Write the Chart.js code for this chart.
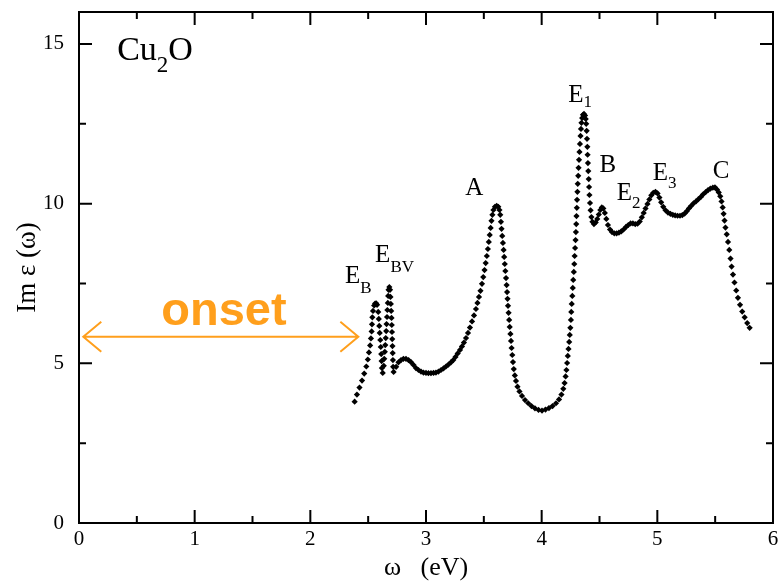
<!DOCTYPE html>
<html>
<head>
<meta charset="utf-8">
<script src="https://cdn.jsdelivr.net/npm/chart.js@4.4.0/dist/chart.umd.min.js"></script>
<style>
  body { margin: 0; background: #fff; }
  #wrap { width: 778px; height: 581px; }
</style>
</head>
<body>
<div id="wrap"><canvas id="eps" width="778" height="581"></canvas></div>
<script>
// photon energy (eV) and Im eps
const omega = [
  2.383, 2.403, 2.425, 2.447, 2.466, 2.484, 2.497, 2.507, 2.517, 2.524,
  2.530, 2.533, 2.536, 2.542, 2.552, 2.560, 2.569, 2.577, 2.587, 2.592,
  2.596, 2.600, 2.605, 2.609, 2.613, 2.616, 2.619, 2.626, 2.635, 2.639,
  2.644, 2.648, 2.652, 2.656, 2.659, 2.663, 2.666, 2.670, 2.673, 2.676,
  2.683, 2.689, 2.693, 2.696, 2.699, 2.702, 2.704, 2.706, 2.708, 2.710,
  2.712, 2.714, 2.716, 2.720, 2.742, 2.762, 2.784, 2.805, 2.827, 2.849,
  2.870, 2.892, 2.913, 2.935, 2.957, 2.978, 3.000, 3.021, 3.043, 3.065,
  3.086, 3.108, 3.130, 3.151, 3.173, 3.194, 3.216, 3.236, 3.255, 3.274,
  3.294, 3.311, 3.328, 3.346, 3.363, 3.380, 3.398, 3.415, 3.432, 3.445,
  3.458, 3.471, 3.484, 3.495, 3.506, 3.516, 3.526, 3.535, 3.543, 3.551,
  3.559, 3.566, 3.574, 3.583, 3.596, 3.611, 3.625, 3.635, 3.642, 3.648,
  3.653, 3.659, 3.665, 3.671, 3.676, 3.681, 3.686, 3.692, 3.697, 3.701,
  3.705, 3.709, 3.714, 3.719, 3.724, 3.730, 3.735, 3.740, 3.746, 3.752,
  3.759, 3.768, 3.778, 3.791, 3.808, 3.830, 3.856, 3.884, 3.912, 3.942,
  3.973, 4.003, 4.033, 4.063, 4.094, 4.124, 4.150, 4.171, 4.187, 4.198,
  4.207, 4.214, 4.220, 4.226, 4.232, 4.238, 4.243, 4.248, 4.253, 4.256,
  4.260, 4.265, 4.269, 4.273, 4.278, 4.282, 4.285, 4.289, 4.293, 4.296,
  4.299, 4.301, 4.304, 4.306, 4.309, 4.312, 4.316, 4.319, 4.323, 4.327,
  4.331, 4.336, 4.340, 4.344, 4.350, 4.357, 4.366, 4.375, 4.381, 4.385,
  4.389, 4.392, 4.395, 4.397, 4.400, 4.403, 4.407, 4.410, 4.413, 4.418,
  4.423, 4.430, 4.439, 4.452, 4.467, 4.481, 4.494, 4.507, 4.520, 4.533,
  4.546, 4.559, 4.573, 4.591, 4.608, 4.628, 4.648, 4.668, 4.688, 4.708,
  4.729, 4.749, 4.769, 4.789, 4.809, 4.829, 4.848, 4.866, 4.882, 4.898,
  4.915, 4.931, 4.948, 4.965, 4.984, 5.002, 5.018, 5.033, 5.051, 5.071,
  5.092, 5.113, 5.134, 5.154, 5.175, 5.196, 5.216, 5.236, 5.254, 5.273,
  5.293, 5.313, 5.334, 5.355, 5.376, 5.396, 5.417, 5.438, 5.459, 5.480,
  5.498, 5.516, 5.531, 5.544, 5.555, 5.565, 5.573, 5.581, 5.589, 5.600,
  5.611, 5.622, 5.633, 5.642, 5.654, 5.667, 5.682, 5.697, 5.715, 5.734,
  5.755, 5.777, 5.798
];

const imEps = [
  3.80, 4.02, 4.24, 4.46, 4.68, 4.90, 5.12, 5.34, 5.56, 5.78,
  6.00, 6.22, 6.44, 6.64, 6.81, 6.87, 6.88, 6.83, 6.61, 6.39,
  6.17, 5.95, 5.73, 5.51, 5.29, 5.07, 4.85, 4.70, 4.92, 5.14,
  5.36, 5.57, 5.79, 6.01, 6.23, 6.45, 6.67, 6.89, 7.11, 7.30,
  7.39, 7.30, 7.08, 6.86, 6.64, 6.42, 6.20, 5.98, 5.76, 5.54,
  5.32, 5.10, 4.89, 4.73, 4.89, 5.03, 5.10, 5.14, 5.14, 5.10,
  5.04, 4.95, 4.85, 4.79, 4.74, 4.71, 4.70, 4.69, 4.69, 4.70,
  4.71, 4.74, 4.79, 4.84, 4.90, 4.96, 5.03, 5.10, 5.20, 5.31,
  5.42, 5.53, 5.65, 5.79, 5.95, 6.12, 6.31, 6.50, 6.70, 6.89,
  7.08, 7.27, 7.49, 7.70, 7.92, 8.14, 8.36, 8.58, 8.80, 9.02,
  9.24, 9.46, 9.65, 9.80, 9.90, 9.93, 9.90, 9.80, 9.65, 9.43,
  9.21, 8.99, 8.77, 8.55, 8.33, 8.11, 7.89, 7.67, 7.45, 7.23,
  7.02, 6.80, 6.58, 6.36, 6.14, 5.92, 5.70, 5.48, 5.26, 5.04,
  4.82, 4.62, 4.45, 4.27, 4.12, 3.98, 3.85, 3.75, 3.66, 3.59,
  3.54, 3.52, 3.55, 3.60, 3.66, 3.75, 3.87, 4.02, 4.20, 4.38,
  4.59, 4.79, 5.01, 5.23, 5.45, 5.67, 5.89, 6.11, 6.36, 6.61,
  6.86, 7.11, 7.36, 7.61, 7.86, 8.11, 8.36, 8.61, 8.86, 9.11,
  9.36, 9.61, 9.87, 10.12, 10.37, 10.62, 10.87, 11.12, 11.37, 11.62,
  11.87, 12.12, 12.34, 12.53, 12.68, 12.78, 12.81, 12.76, 12.65, 12.50,
  12.28, 12.03, 11.78, 11.53, 11.27, 11.02, 10.77, 10.52, 10.27, 10.02,
  9.79, 9.58, 9.43, 9.36, 9.41, 9.52, 9.66, 9.80, 9.88, 9.85,
  9.71, 9.52, 9.33, 9.19, 9.11, 9.07, 9.07, 9.09, 9.13, 9.19,
  9.27, 9.33, 9.38, 9.38, 9.36, 9.37, 9.44, 9.57, 9.71, 9.85,
  9.99, 10.13, 10.26, 10.34, 10.37, 10.32, 10.19, 10.04, 9.90, 9.79,
  9.72, 9.68, 9.65, 9.63, 9.62, 9.62, 9.64, 9.69, 9.76, 9.85,
  9.93, 10.01, 10.07, 10.14, 10.21, 10.29, 10.36, 10.42, 10.47, 10.50,
  10.51, 10.44, 10.35, 10.23, 10.07, 9.88, 9.68, 9.47, 9.25, 9.04,
  8.80, 8.55, 8.28, 8.03, 7.78, 7.53, 7.28, 7.05, 6.83, 6.62,
  6.44, 6.26, 6.11
];

const xTickLabels = ['0', '1', '2', '3', '4', '5', '6'];
const yTickLabels = ['0', '5', '10', '15'];

// peak names, placed in data coordinates
const peakLabels = [
  { main: 'E', sub: 'B',  x: 2.30, y: 7.52, dy: 10 },
  { main: 'E', sub: 'BV', x: 2.56, y: 8.17, dy: 10 },
  { main: 'A', sub: '',   x: 3.34, y: 10.27 },
  { main: 'E', sub: '1',  x: 4.23, y: 13.18, dy: 5 },
  { main: 'B', sub: '',   x: 4.50, y: 10.99 },
  { main: 'E', sub: '2',  x: 4.65, y: 10.12, dy: 8 },
  { main: 'E', sub: '3',  x: 4.96, y: 10.74, dy: 8 },
  { main: 'C', sub: '',   x: 5.48, y: 10.80 }
];

const SERIF = '"Liberation Serif", "Times New Roman", serif';
const ORANGE = '#ff9f1c';

const points = omega.map((w, i) => ({ x: w, y: imEps[i] }));

const decorPlugin = {
  id: 'decor',
  afterDraw(chart) {
    const { ctx, chartArea: a, scales: { x, y } } = chart;
    ctx.save();

    // frame
    ctx.strokeStyle = '#000';
    ctx.lineWidth = 2;
    ctx.strokeRect(a.left, a.top, a.right - a.left, a.bottom - a.top);

    // inward ticks on all four sides
    ctx.beginPath();
    for (let v = 0; v <= 6.001; v += 0.5) {
      const len = Math.abs(v - Math.round(v)) < 1e-6 ? 13 : 7;
      const px = x.getPixelForValue(v);
      ctx.moveTo(px, a.bottom); ctx.lineTo(px, a.bottom - len);
      ctx.moveTo(px, a.top); ctx.lineTo(px, a.top + len);
    }
    for (let v = 0; v <= 16; v += 2.5) {
      const len = v % 5 === 0 ? 13 : 7;
      const py = y.getPixelForValue(v);
      ctx.moveTo(a.left, py); ctx.lineTo(a.left + len, py);
      ctx.moveTo(a.right, py); ctx.lineTo(a.right - len, py);
    }
    ctx.stroke();

    // compound label
    ctx.fillStyle = '#000';
    ctx.textBaseline = 'alphabetic';
    ctx.textAlign = 'left';
    let cx = x.getPixelForValue(0.33), cy = y.getPixelForValue(14.5);
    ctx.font = '34px ' + SERIF;
    ctx.fillText('Cu', cx, cy);
    cx += ctx.measureText('Cu').width;
    ctx.font = '23px ' + SERIF;
    ctx.fillText('2', cx, cy + 12);
    cx += ctx.measureText('2').width;
    ctx.font = '34px ' + SERIF;
    ctx.fillText('O', cx, cy);

    // peak labels
    peakLabels.forEach(p => {
      let px = x.getPixelForValue(p.x);
      const py = y.getPixelForValue(p.y);
      ctx.font = '25px ' + SERIF;
      ctx.fillText(p.main, px, py);
      if (p.sub) {
        px += ctx.measureText(p.main).width;
        ctx.font = '17px ' + SERIF;
        ctx.fillText(p.sub, px, py + p.dy);
      }
    });

    // onset arrow
    const x0 = x.getPixelForValue(0.037), x1 = x.getPixelForValue(2.415);
    const ya = y.getPixelForValue(5.83);
    ctx.strokeStyle = ORANGE;
    ctx.lineWidth = 2;
    ctx.beginPath();
    ctx.moveTo(x0, ya); ctx.lineTo(x1, ya);
    ctx.moveTo(x0 + 18, ya - 15); ctx.lineTo(x0, ya); ctx.lineTo(x0 + 18, ya + 15);
    ctx.moveTo(x1 - 18, ya - 15); ctx.lineTo(x1, ya); ctx.lineTo(x1 - 18, ya + 15);
    ctx.stroke();

    ctx.fillStyle = ORANGE;
    ctx.textAlign = 'center';
    ctx.font = 'bold 47px "Liberation Sans", Arial, sans-serif';
    ctx.fillText('onset', x.getPixelForValue(1.253), y.getPixelForValue(6.2));

    ctx.restore();
  }
};

new Chart(document.getElementById('eps'), {
  type: 'scatter',
  data: {
    datasets: [{
      data: points,
      pointStyle: 'rectRot',
      pointRadius: 3.1,
      pointBorderWidth: 0,
      backgroundColor: '#000',
      borderColor: '#000',
      showLine: false
    }]
  },
  options: {
    responsive: false,
    animation: false,
    events: [],
    layout: { padding: { top: 12, right: 5, left: 0, bottom: 0 } },
    plugins: { legend: { display: false }, tooltip: { enabled: false } },
    scales: {
      x: {
        type: 'linear',
        min: 0,
        max: 6,
        afterFit: s => {
          s.height = 58;
          s.paddingLeft = 0; s.paddingRight = 0;
        },
        grid: { display: false },
        border: { display: false },
        ticks: {
          stepSize: 1,
          padding: -4,
          color: '#000',
          font: { family: SERIF, size: 21 },
          callback: v => xTickLabels.includes(String(v)) ? String(v) : ''
        },
        title: {
          display: true,
          text: 'ω   (eV)',
          color: '#000',
          font: { family: SERIF, size: 26, lineHeight: 1 },
          padding: { top: 0, bottom: 0 }
        }
      },
      y: {
        type: 'linear',
        min: 0,
        max: 16,
        afterFit: s => {
          s.width = 79;
          s.paddingTop = 0; s.paddingBottom = 0;
        },
        grid: { display: false },
        border: { display: false },
        ticks: {
          stepSize: 5,
          includeBounds: false,
          padding: 7,
          color: '#000',
          font: { family: SERIF, size: 21 },
          callback: v => yTickLabels.includes(String(v)) ? String(v) : ''
        },
        title: {
          display: true,
          text: 'Im ε (ω)',
          color: '#000',
          font: { family: SERIF, size: 27, lineHeight: 1 },
          padding: { top: 14, bottom: 0 }
        }
      }
    }
  },
  plugins: [decorPlugin]
});
</script>
</body>
</html>
